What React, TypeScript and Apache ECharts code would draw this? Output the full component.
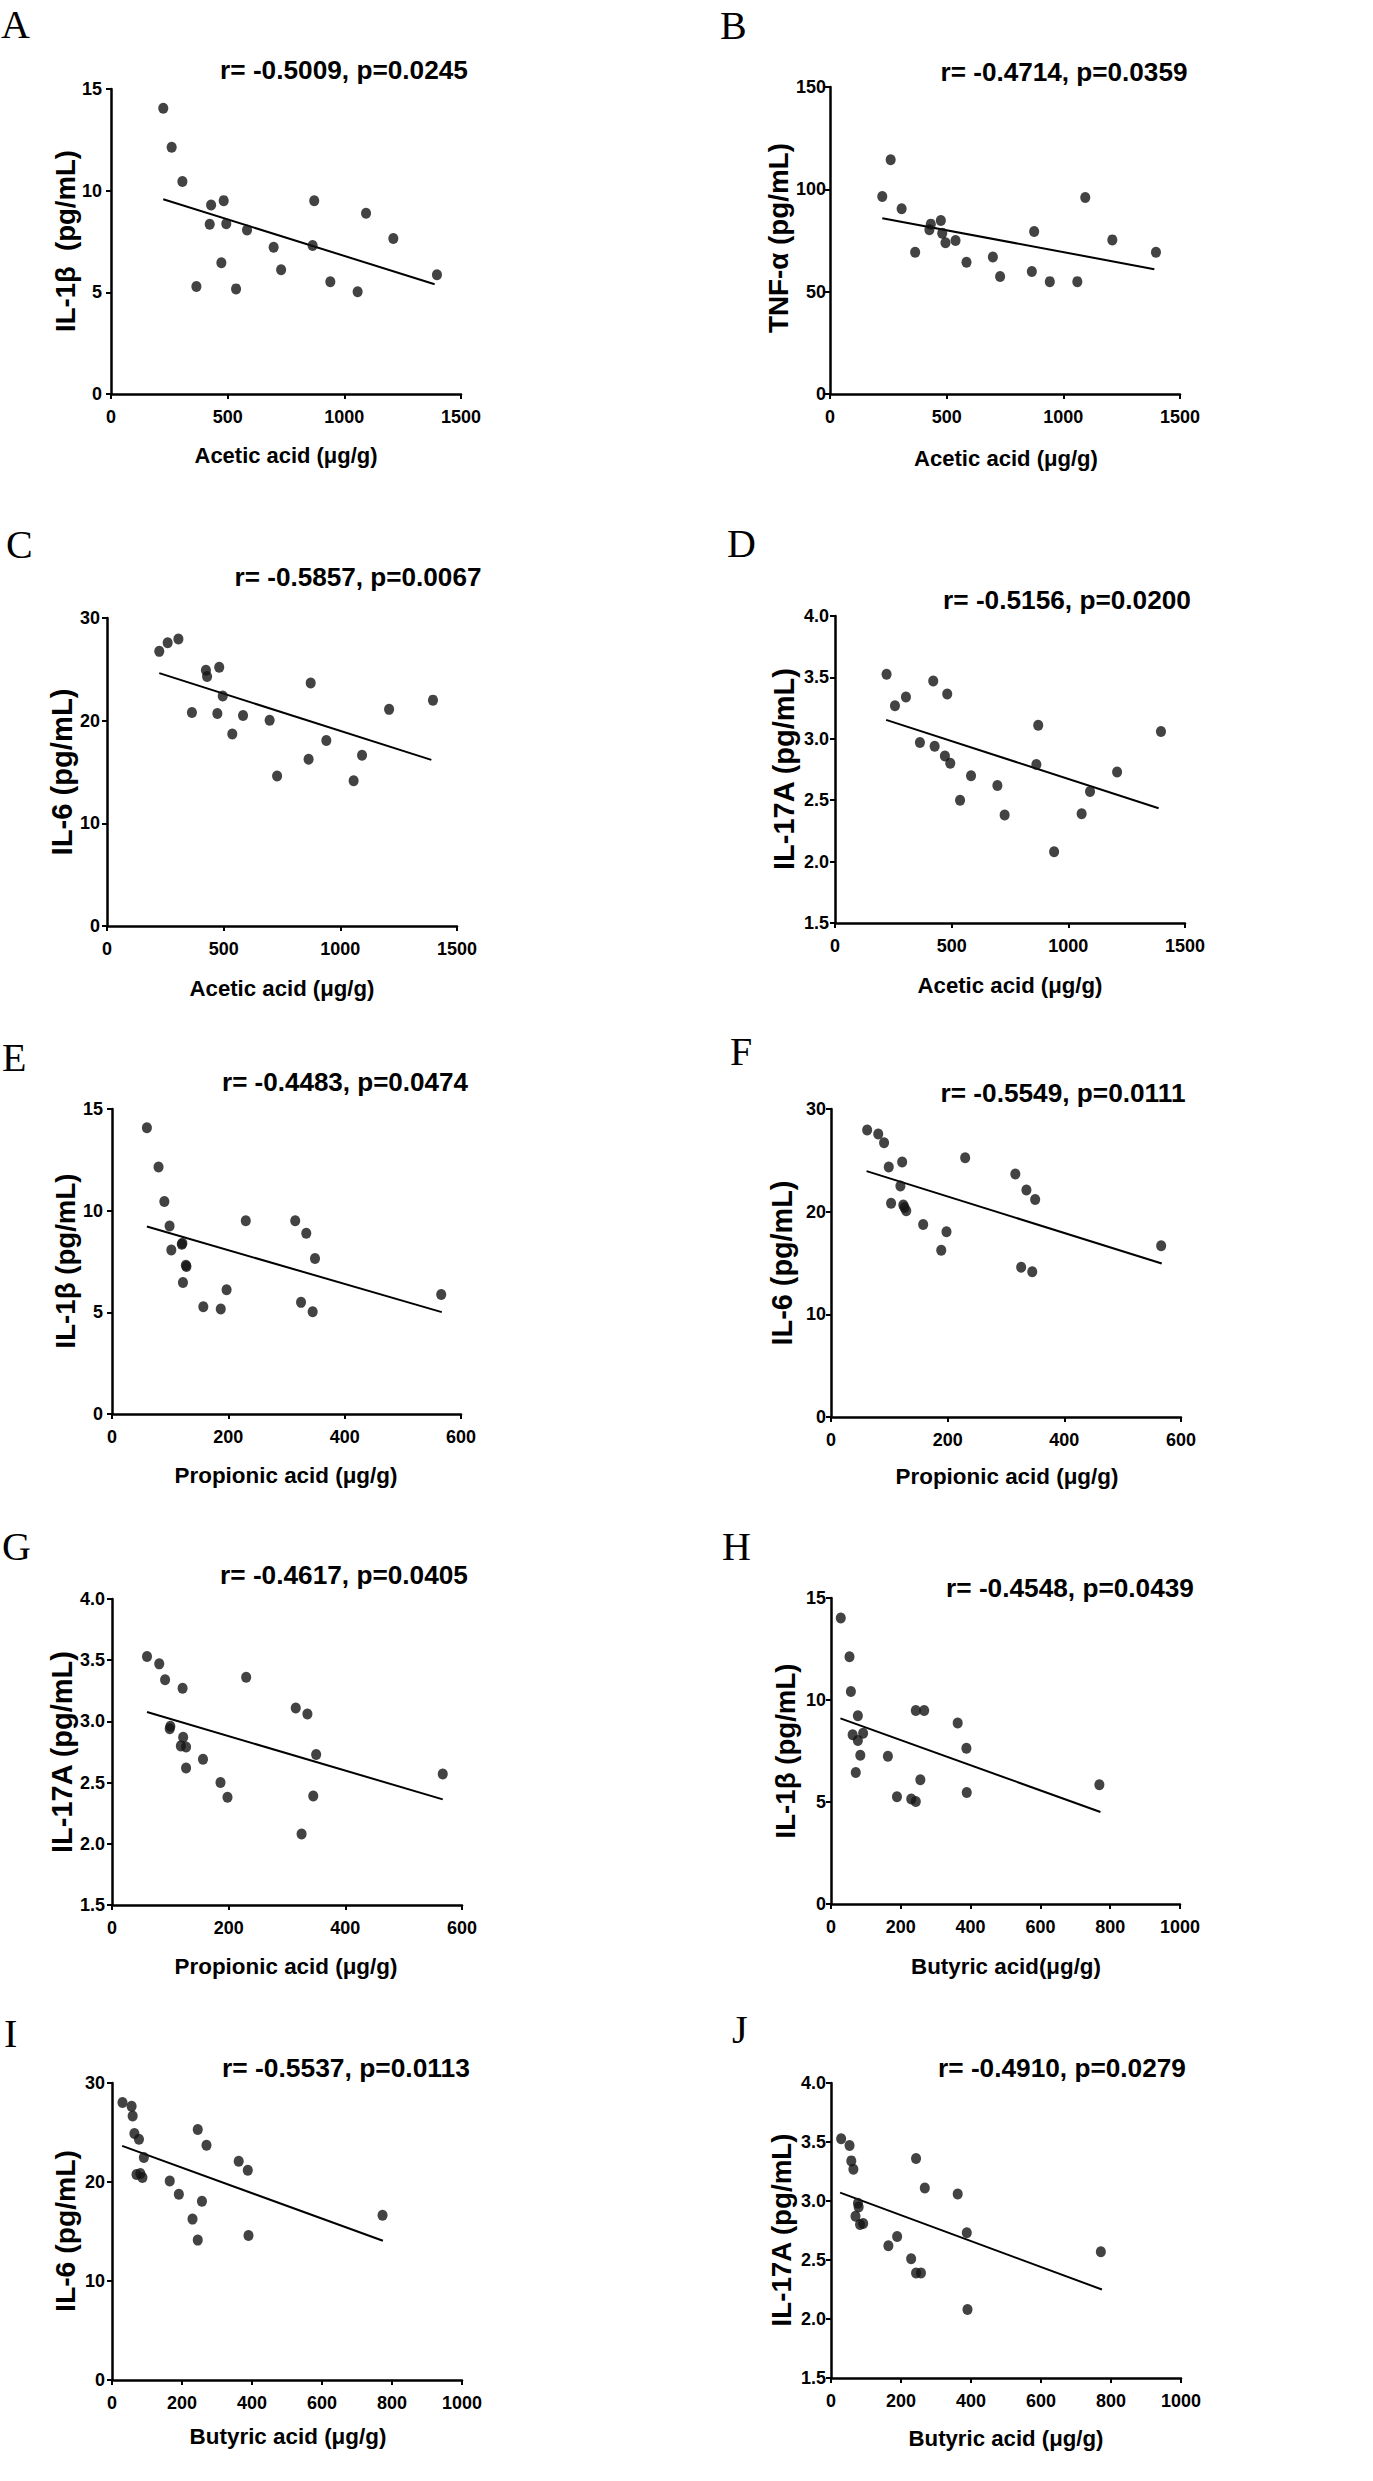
import React, { useEffect, useRef } from "react";
import * as echarts from "echarts";

// ---------- data ----------
// A: IL-1β vs acetic acid
const aceticA = [224, 260, 306, 366, 429, 423, 483, 494, 473, 536, 583, 697, 729, 864, 871, 940, 1057, 1093, 1210, 1397];
const il1bA = [14.05, 12.13, 10.45, 5.29, 9.3, 8.35, 9.51, 8.37, 6.45, 5.17, 8.07, 7.22, 6.11, 7.3, 9.5, 5.52, 5.03, 8.89, 7.65, 5.86];
// B: TNF-α vs acetic acid
const aceticB = [224, 260, 307, 365, 426, 432, 475, 481, 495, 538, 585, 698, 729, 865, 875, 942, 1060, 1094, 1210, 1397];
const tnfB = [96.5, 114.5, 90.5, 69.3, 80.2, 83.0, 84.8, 78.6, 73.9, 75.0, 64.4, 66.9, 57.4, 59.8, 79.4, 54.9, 54.9, 96.0, 75.3, 69.3];
// C: IL-6 vs acetic acid
const aceticC = [224, 260, 306, 364, 424, 429, 481, 473, 496, 537, 583, 697, 729, 864, 873, 940, 1057, 1093, 1209, 1397];
const il6C = [26.75, 27.6, 27.95, 20.8, 24.9, 24.3, 25.2, 20.7, 22.4, 18.7, 20.5, 20.05, 14.6, 16.25, 23.66, 18.07, 14.14, 16.64, 21.1, 22.0];
// D: IL-17A vs acetic acid
const aceticD = [221, 257, 304, 364, 421, 427, 471, 481, 494, 536, 583, 696, 727, 863, 871, 939, 1057, 1093, 1209, 1397];
const il17D = [3.525, 3.27, 3.34, 2.97, 3.47, 2.94, 2.86, 3.365, 2.8, 2.5, 2.7, 2.62, 2.38, 2.79, 3.11, 2.08, 2.39, 2.57, 2.73, 3.06];
// E: IL-1β vs propionic acid
const propE = [60, 80, 90, 99, 102, 120, 121, 128, 127, 122, 157, 187, 197, 230, 315, 334, 349, 325, 345, 566];
const il1bE = [14.08, 12.15, 10.45, 9.25, 8.07, 8.35, 8.4, 7.25, 7.32, 6.47, 5.27, 5.16, 6.11, 9.5, 9.5, 8.89, 7.65, 5.49, 5.03, 5.88];
// F: IL-6 vs propionic acid
const propF = [62, 81, 91, 99, 122, 119, 103, 124, 126, 129, 158, 189, 198, 230, 316, 335, 350, 326, 345, 566];
const il6F = [27.95, 27.56, 26.71, 24.34, 24.83, 22.49, 20.83, 20.64, 20.4, 20.08, 18.75, 16.25, 18.04, 25.25, 23.66, 22.1, 21.19, 14.59, 14.14, 16.67];
// G: IL-17A vs propionic acid
const propG = [60, 81, 91, 121, 230, 100, 99, 122, 118, 127, 127, 156, 186, 198, 315, 335, 350, 345, 325, 567];
const il17G = [3.53, 3.47, 3.34, 3.27, 3.36, 2.96, 2.94, 2.87, 2.8, 2.79, 2.62, 2.69, 2.5, 2.38, 3.11, 3.06, 2.73, 2.39, 2.08, 2.57];
// H: IL-1β vs butyric acid
const butH = [28, 53, 57, 77, 62, 92, 77, 84, 71, 163, 189, 230, 243, 256, 243, 267, 363, 388, 389, 769];
const il1bH = [14.02, 12.12, 10.42, 9.23, 8.3, 8.37, 8.02, 7.29, 6.45, 7.24, 5.26, 5.15, 5.02, 6.09, 9.48, 9.48, 8.87, 7.63, 5.47, 5.85];
// I: IL-6 vs butyric acid
const butI = [30, 56, 59, 64, 77, 91, 70, 81, 87, 165, 191, 230, 245, 245, 257, 270, 362, 388, 390, 773];
const il6I = [28.02, 27.65, 26.67, 24.89, 24.32, 22.47, 20.75, 20.85, 20.45, 20.11, 18.77, 16.25, 14.13, 25.3, 18.06, 23.71, 22.1, 21.19, 14.6, 16.65];
// J: IL-17A vs butyric acid
const butJ = [29, 53, 58, 64, 77, 79, 70, 83, 92, 164, 189, 229, 243, 257, 243, 268, 362, 388, 390, 771];
const il17J = [3.527, 3.47, 3.34, 3.27, 2.98, 2.95, 2.87, 2.8, 2.81, 2.62, 2.7, 2.51, 2.39, 2.39, 3.36, 3.11, 3.06, 2.73, 2.08, 2.57];

// regression line end points (x start/end, y start/end) as drawn
const fitAx = [224, 1387], fitAy = [9.58, 5.4];
const fitBx = [224, 1390], fitBy = [85.9, 61.0];
const fitCx = [224, 1390], fitCy = [24.63, 16.18];
const fitDx = [219, 1387], fitDy = [3.154, 2.435];
const fitEx = [60, 567], fitEy = [9.22, 5.01];
const fitFx = [61, 567], fitFy = [23.95, 14.95];
const fitGx = [60, 567], fitGy = [3.077, 2.363];
const fitHx = [27, 772], fitHy = [9.1, 4.51];
const fitIx = [29, 774], fitIy = [23.65, 14.06];
const fitJx = [26, 774], fitJy = [3.071, 2.25];

// axis ranges [min, max, interval]
const aceticRange = [0, 1500, 500];
const propRange = [0, 600, 200];
const butRange = [0, 1000, 200];
const il1bRange = [0, 15, 5];
const tnfRange = [0, 150, 50];
const il6Range = [0, 30, 10];
const il17Range = [1.5, 4.0, 0.5];

const panelLetters = ["A", "B", "C", "D", "E", "F", "G", "H", "I", "J"];
const corrTexts = [
  "r= -0.5009, p=0.0245",
  "r= -0.4714, p=0.0359",
  "r= -0.5857, p=0.0067",
  "r= -0.5156, p=0.0200",
  "r= -0.4483, p=0.0474",
  "r= -0.5549, p=0.0111",
  "r= -0.4617, p=0.0405",
  "r= -0.4548, p=0.0439",
  "r= -0.5537, p=0.0113",
  "r= -0.4910, p=0.0279",
];
const xTitles = [
  "Acetic acid (μg/g)",
  "Acetic acid (μg/g)",
  "Acetic acid (μg/g)",
  "Acetic acid (μg/g)",
  "Propionic acid (μg/g)",
  "Propionic acid (μg/g)",
  "Propionic acid (μg/g)",
  "Butyric acid(μg/g)",
  "Butyric acid (μg/g)",
  "Butyric acid (μg/g)",
];
const yTitles = [
  "IL-1β  (pg/mL)",
  "TNF-α (pg/mL)",
  "IL-6 (pg/mL)",
  "IL-17A (pg/mL)",
  "IL-1β (pg/mL)",
  "IL-6 (pg/mL)",
  "IL-17A (pg/mL)",
  "IL-1β (pg/mL)",
  "IL-6 (pg/mL)",
  "IL-17A (pg/mL)",
];

// ---------- layout (pixels) ----------
type Layout = {
  grid: number[]; // left, top, width, height
  letter: number[]; // x, y
  corr: number[]; // center x, center y, width
  xt: number[]; // center x, center y, width
  yt: number[]; // center x, center y, length
  ym: number; // y label margin
};
const layouts: Layout[] = [
  { grid: [111, 89, 350, 305], letter: [1, 24], corr: [344, 70, 248], xt: [286, 455, 183], yt: [65, 241, 182], ym: 9 },
  { grid: [830, 87, 350, 307], letter: [720, 25], corr: [1064, 72, 247], xt: [1006, 458, 184], yt: [778, 238, 190], ym: 4 },
  { grid: [107, 618, 350, 308], letter: [6, 544], corr: [358, 577, 247], xt: [282, 988, 185], yt: [62, 772, 167], ym: 7 },
  { grid: [835, 616, 350, 307], letter: [727, 543], corr: [1067, 600, 248], xt: [1010, 985, 185], yt: [784, 769, 203], ym: 6 },
  { grid: [112, 1109, 349, 305], letter: [2, 1057], corr: [345, 1082, 246], xt: [286, 1475, 223], yt: [65, 1261, 175], ym: 9 },
  { grid: [831, 1109, 350, 308], letter: [730, 1051], corr: [1063, 1093, 245], xt: [1007, 1476, 223], yt: [782, 1263, 165], ym: 5 },
  { grid: [112, 1599, 350, 306], letter: [2, 1546], corr: [344, 1575, 248], xt: [286, 1966, 223], yt: [62, 1752, 203], ym: 7 },
  { grid: [831, 1598, 349, 306], letter: [722, 1546], corr: [1070, 1588, 248], xt: [1006, 1966, 190], yt: [785, 1751, 175], ym: 5 },
  { grid: [112, 2083, 350, 297], letter: [4, 2033], corr: [346, 2068, 248], xt: [288, 2436, 197], yt: [65, 2231, 162], ym: 7 },
  { grid: [831, 2083, 350, 295], letter: [732, 2029], corr: [1062, 2068, 248], xt: [1006, 2438, 195], yt: [781, 2230, 194], ym: 5 },
];

const panelData = [
  { x: aceticA, y: il1bA, fx: fitAx, fy: fitAy, xr: aceticRange, yr: il1bRange },
  { x: aceticB, y: tnfB, fx: fitBx, fy: fitBy, xr: aceticRange, yr: tnfRange },
  { x: aceticC, y: il6C, fx: fitCx, fy: fitCy, xr: aceticRange, yr: il6Range },
  { x: aceticD, y: il17D, fx: fitDx, fy: fitDy, xr: aceticRange, yr: il17Range },
  { x: propE, y: il1bE, fx: fitEx, fy: fitEy, xr: propRange, yr: il1bRange },
  { x: propF, y: il6F, fx: fitFx, fy: fitFy, xr: propRange, yr: il6Range },
  { x: propG, y: il17G, fx: fitGx, fy: fitGy, xr: propRange, yr: il17Range },
  { x: butH, y: il1bH, fx: fitHx, fy: fitHy, xr: butRange, yr: il1bRange },
  { x: butI, y: il6I, fx: fitIx, fy: fitIy, xr: butRange, yr: il6Range },
  { x: butJ, y: il17J, fx: fitJx, fy: fitJy, xr: butRange, yr: il17Range },
];

const H_FONT = '"Liberation Sans Narrow", "Arial Narrow", Arial, "Liberation Sans", sans-serif';
const V_FONT = 'Arial, "Liberation Sans", sans-serif';
const SERIF = '"Liberation Serif", "Times New Roman", serif';

let measureCtx: CanvasRenderingContext2D | null = null;
function fitSize(text: string, family: string, target: number, maxSize: number): number {
  if (!measureCtx) measureCtx = document.createElement("canvas").getContext("2d");
  if (!measureCtx) return maxSize * 0.8;
  measureCtx.font = `bold 100px ${family}`;
  const w = measureCtx.measureText(text).width;
  if (!w) return maxSize * 0.8;
  return Math.min(maxSize, (100 * target) / w);
}

export default function App() {
  const ref = useRef<HTMLDivElement>(null);
  useEffect(() => {
    if (!ref.current) return;
    const chart = echarts.init(ref.current, undefined, { renderer: "svg" });
    const tickSize = fitSize("1000", H_FONT, 40, 20);

    const grids: any[] = [];
    const xAxes: any[] = [];
    const yAxes: any[] = [];
    const series: any[] = [];
    const graphics: any[] = [];

    const txt = (x: number, y: number, text: string, family: string, size: number, weight: string, align: string, rot = 0) => ({
      type: "text",
      x,
      y,
      rotation: rot,
      style: {
        text,
        fontFamily: family,
        fontSize: size,
        fontWeight: weight,
        fill: "#000",
        align,
        textAlign: align,
        verticalAlign: "middle",
        textVerticalAlign: "middle",
      },
    });

    panelData.forEach((p, i) => {
      const L = layouts[i];
      grids.push({ left: L.grid[0], top: L.grid[1], width: L.grid[2], height: L.grid[3], containLabel: false });
      xAxes.push({
        gridIndex: i,
        type: "value",
        min: p.xr[0],
        max: p.xr[1],
        interval: p.xr[2],
        axisLine: { show: true, onZero: false, lineStyle: { color: "#000", width: 2.5 } },
        axisTick: { show: true, length: 5, lineStyle: { color: "#000", width: 2 } },
        axisLabel: {
          color: "#000",
          fontWeight: "bold",
          fontSize: tickSize,
          fontFamily: H_FONT,
          margin: 14,
          formatter: (v: number) => String(v),
        },
        splitLine: { show: false },
      });
      const dec = p.yr[2] < 1;
      yAxes.push({
        gridIndex: i,
        type: "value",
        min: p.yr[0],
        max: p.yr[1],
        interval: p.yr[2],
        axisLine: { show: true, onZero: false, lineStyle: { color: "#000", width: 2.5 } },
        axisTick: { show: true, length: 5, lineStyle: { color: "#000", width: 2 } },
        axisLabel: {
          color: "#000",
          fontWeight: "bold",
          fontSize: tickSize,
          fontFamily: H_FONT,
          margin: L.ym,
          formatter: (v: number) => (dec ? v.toFixed(1) : String(v)),
        },
        splitLine: { show: false },
      });
      series.push({
        type: "line",
        xAxisIndex: i,
        yAxisIndex: i,
        data: p.fx.map((v, k) => [v, p.fy[k]]),
        symbol: "none",
        showSymbol: false,
        lineStyle: { color: "#000", width: 2 },
        z: 2,
        silent: true,
      });
      series.push({
        type: "scatter",
        xAxisIndex: i,
        yAxisIndex: i,
        data: p.x.map((v, k) => [v, p.y[k]]),
        symbol: "circle",
        symbolSize: [10, 11],
        itemStyle: { color: "#141414" },
        z: 3,
      });
      graphics.push(txt(L.letter[0], L.letter[1], panelLetters[i], SERIF, 40, "normal", "left"));
      graphics.push(
        txt(L.corr[0], L.corr[1], corrTexts[i], H_FONT, fitSize(corrTexts[i], H_FONT, L.corr[2], 34), "bold", "center")
      );
      graphics.push(
        txt(L.xt[0], L.xt[1], xTitles[i], H_FONT, fitSize(xTitles[i], H_FONT, L.xt[2], 30), "bold", "center")
      );
      graphics.push(
        txt(L.yt[0], L.yt[1], yTitles[i], V_FONT, fitSize(yTitles[i], V_FONT, L.yt[2], 30), "bold", "center", Math.PI / 2)
      );
    });

    chart.setOption({
      animation: false,
      backgroundColor: "#ffffff",
      grid: grids,
      xAxis: xAxes,
      yAxis: yAxes,
      series,
      graphic: { elements: graphics },
    });
    return () => chart.dispose();
  }, []);

  return (
    <div
      ref={ref}
      style={{ position: "absolute", left: 0, top: 0, width: 1373, height: 2481, background: "#fff" }}
    />
  );
}
